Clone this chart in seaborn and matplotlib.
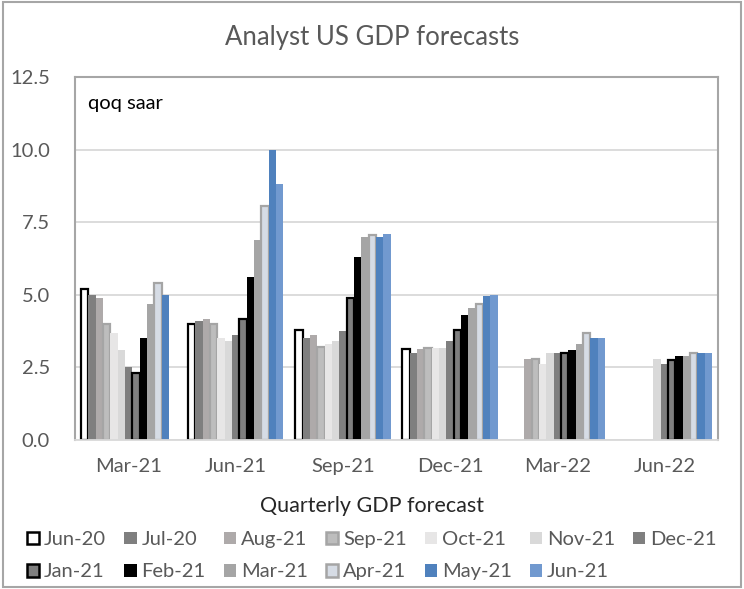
import numpy as np
import pandas as pd
import matplotlib
matplotlib.use('Agg')
import matplotlib.pyplot as plt
from matplotlib.patches import Patch, Rectangle
import seaborn as sns

nan = np.nan

# Datos: trimestre pronosticado y cada encuesta (vintage)
quarters = ['Mar-21', 'Jun-21', 'Sep-21', 'Dec-21', 'Mar-22', 'Jun-22']
vintages = ['Jun-20', 'Jul-20', 'Aug-21', 'Sep-21', 'Oct-21', 'Nov-21', 'Dec-21',
            'Jan-21', 'Feb-21', 'Mar-21', 'Apr-21', 'May-21', 'Jun-21']

jun20 = [5.2, 4.0, 3.8, 3.15, nan, nan]
jul20 = [5.0, 4.1, 3.5, 3.0, nan, nan]
aug21 = [4.9, 4.15, 3.6, 3.15, 2.8, nan]
sep21 = [4.0, 4.0, 3.2, 3.17, 2.8, nan]
oct21 = [3.7, 3.5, 3.3, 3.17, 2.6, nan]
nov21 = [3.1, 3.4, 3.4, 3.17, 3.0, 2.8]
dec21 = [2.5, 3.6, 3.75, 3.4, 3.0, 2.6]
jan21 = [2.3, 4.15, 4.9, 3.8, 3.0, 2.75]
feb21 = [3.5, 5.6, 6.3, 4.3, 3.1, 2.9]
mar21 = [4.7, 6.9, 7.0, 4.55, 3.3, 2.88]
apr21 = [5.4, 8.05, 7.05, 4.7, 3.7, 3.0]
may21 = [5.0, 10.0, 7.0, 4.95, 3.5, 3.0]
jun21 = [nan, 8.8, 7.1, 5.0, 3.5, 3.0]

series = [jun20, jul20, aug21, sep21, oct21, nov21, dec21,
          jan21, feb21, mar21, apr21, may21, jun21]

# estilos (relleno, borde)
fills = ['#ffffff', '#7f7f7f', '#aeaaaa', '#bdbdbd', '#e7e6e6', '#d9d9d9', '#7f7f7f',
         '#7f7f7f', '#000000', '#a5a5a5', '#d6dce5', '#4f81bd', '#7199cf']
edges = ['#000000', None, None, '#a5a5a5', None, None, None,
         '#000000', None, None, '#a5a5a5', None, None]

rows = []
for v, vals in zip(vintages, series):
    for q, val in zip(quarters, vals):
        rows.append({'quarter': q, 'vintage': v, 'gdp': val})
df = pd.DataFrame(rows).dropna()

sns.set_style('white')
plt.rcParams['font.family'] = ['Lato', 'DejaVu Sans']

fig = plt.figure(figsize=(7.44, 5.89), dpi=100)
ax = fig.add_axes([75 / 744, 1 - 440 / 589, 643 / 744, 363 / 589])

sns.barplot(data=df, x='quarter', y='gdp', hue='vintage', order=quarters,
            hue_order=vintages, palette=dict(zip(vintages, fills)),
            saturation=1, width=0.89, errorbar=None, linewidth=0,
            legend=False, ax=ax)

for cont, ec in zip(ax.containers, edges):
    for bar in cont:
        if ec is not None:
            bar.set_edgecolor(ec)
            bar.set_linewidth(1.6)
        else:
            bar.set_linewidth(0)

ax.set_ylim(0, 12.5)
ax.set_yticks(np.arange(0, 12.6, 2.5))
ax.set_yticklabels([f'{t:.1f}' for t in np.arange(0, 12.6, 2.5)])
ax.set_xlabel('')
ax.set_ylabel('')
ax.tick_params(length=0, labelsize=14.5, colors='#595959')
ax.tick_params(axis='x', pad=13)
ax.tick_params(axis='y', pad=18)
ax.yaxis.grid(True, color='#d9d9d9', linewidth=1.3)
ax.set_axisbelow(True)
for s in ['top', 'left', 'right']:
    ax.spines[s].set_color('#a6a6a6')
    ax.spines[s].set_linewidth(1.5)
ax.spines['bottom'].set_color('#d9d9d9')
ax.spines['bottom'].set_linewidth(1.3)

ax.text(0.02, 0.928, 'qoq saar', transform=ax.transAxes, fontsize=14.5,
        va='center', ha='left', color='#000000')

fig.text(0.5, 1 - 38 / 589, 'Analyst US GDP forecasts', ha='center', va='center',
         fontsize=18.5, color='#595959')

# leyenda: reordenar para que se lea por filas
handles = []
for f, ec in zip(fills, edges):
    if ec is None:
        handles.append(Patch(facecolor=f, edgecolor=f, linewidth=0))
    else:
        handles.append(Patch(facecolor=f, edgecolor=ec, linewidth=1.8))
orden = [0, 7, 1, 8, 2, 9, 3, 10, 4, 11, 5, 12, 6]
leg = fig.legend([handles[i] for i in orden], [vintages[i] for i in orden],
                 ncol=7, loc='upper center', bbox_to_anchor=(0.5, 1 - 488 / 589),
                 frameon=False, title='Quarterly GDP forecast', fontsize=14.5,
                 title_fontsize=15.5, handlelength=0.6, handleheight=0.6,
                 handletextpad=0.25, columnspacing=0.9, labelspacing=0.75,
                 borderaxespad=0)
for t in leg.get_texts():
    t.set_color('#595959')

fig.patches.append(Rectangle((0.004, 0.003), 0.992, 0.994, transform=fig.transFigure,
                             fill=False, edgecolor='#a6a6a6', linewidth=1.5))

fig.savefig('out.png', dpi=100)
plt.close()
